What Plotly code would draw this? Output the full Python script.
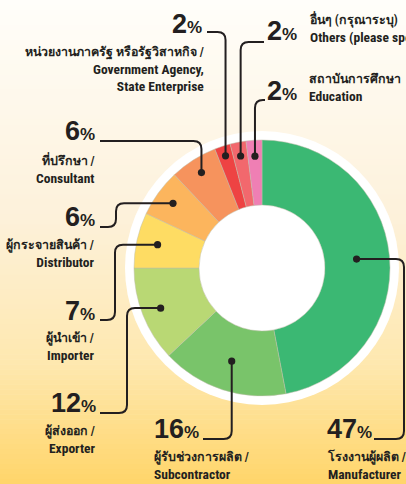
import math
import plotly.graph_objects as go

# ---- data ----
categories_th = ["โรงงานผู้ผลิต /", "ผู้รับช่วงการผลิต /", "ผู้ส่งออก /", "ผู้นำเข้า /",
                 "ผู้กระจายสินค้า /", "ที่ปรึกษา /", "หน่วยงานภาครัฐ หรือรัฐวิสาหกิจ /",
                 "อื่นๆ (กรุณาระบุ)", "สถาบันการศึกษา"]
categories_en = ["Manufacturer", "Subcontractor", "Exporter", "Importer", "Distributor",
                 "Consultant", "Government Agency,<br>State Enterprise",
                 "Others (please specify)", "Education"]
values = [47, 16, 12, 7, 6, 6, 2, 2, 2]
colors = ["#3BB873", "#79C46A", "#B9D874", "#FEDC63", "#FCB55D", "#F6935D",
          "#EE4343", "#F2686D", "#EF7FB4"]

W, H = 406, 484
CX, CY, R_OUT, R_IN, R_RING = 262, 268, 128, 63, 137
DARK = "#231F20"
FONT = "Liberation Sans Narrow, Roboto Condensed, Arial Narrow, Liberation Sans, sans-serif"
NUMFONT = "Liberation Sans, Arial, sans-serif"


def px(x, y):
    return x / W, 1 - y / H


fig = go.Figure()
fig.add_trace(go.Pie(
    values=values, labels=[e.replace("<br>", " ") for e in categories_en],
    marker=dict(colors=colors, line=dict(color="rgba(190,190,170,0.7)", width=0.7)),
    hole=R_IN / R_OUT, sort=False, direction="clockwise", rotation=0,
    textinfo="none", hoverinfo="label+percent", showlegend=False,
    domain=dict(x=[(CX - R_OUT) / W, (CX + R_OUT) / W],
                y=[1 - (CY + R_OUT) / H, 1 - (CY - R_OUT) / H]),
))

shapes = []
# background gradient
stops = [(0.0, (255, 254, 250)), (0.45, (253, 241, 218)), (0.75, (254, 232, 175)), (1.0, (255, 213, 106))]


def grad(t):
    for (t0, c0), (t1, c1) in zip(stops, stops[1:]):
        if t <= t1:
            f = (t - t0) / (t1 - t0)
            return "rgb(%d,%d,%d)" % tuple(round(a + (b - a) * f) for a, b in zip(c0, c1))
    return "rgb(%d,%d,%d)" % stops[-1][1]


N = 97
for i in range(N):
    y0, y1 = i * H / N, (i + 1) * H / N + 0.6
    shapes.append(dict(type="rect", xref="paper", yref="paper", layer="below",
                       x0=0, x1=1, y0=1 - y1 / H, y1=1 - y0 / H,
                       fillcolor=grad((i + 0.5) / N), line=dict(width=0)))
# white ring
x0, y0 = px(CX - R_RING, CY - R_RING)
x1, y1 = px(CX + R_RING, CY + R_RING)
shapes.append(dict(type="circle", xref="paper", yref="paper", layer="below",
                   x0=x0, x1=x1, y0=y1, y1=y0, fillcolor="white", line=dict(width=0)))

# leader dots computed from slice mid-angles
dot_r = [95, 98, 109, 107, 110, 113, 118, 114, 112]
total = sum(values)
cum = 0
dots = []
for v, r in zip(values, dot_r):
    a = math.radians((cum + v / 2) / total * 360)
    cum += v
    dots.append((CX + r * math.sin(a), CY - r * math.cos(a)))


def path_str(pts):
    out = []
    for cmd in pts:
        c = cmd[0]
        nums = cmd[1:]
        conv = []
        for k in range(0, len(nums), 2):
            X, Y = px(nums[k], nums[k + 1])
            conv.append("%.5f,%.5f" % (X, Y))
        out.append(c + " " + " ".join(conv))
    return " ".join(out)


def leader(i):
    dx, dy = dots[i]
    c = 8
    if i == 0:
        xr, yb, xe = 404, 439, 374
        p = [("M", dx, dy), ("L", xr - c, dy), ("Q", xr, dy, xr, dy + c), ("L", xr, yb - c),
             ("Q", xr, yb, xr - c, yb), ("L", xe, yb)]
    elif i == 1:
        yb, xe = 439, 203
        p = [("M", dx, dy), ("L", dx, yb - c), ("Q", dx, yb, dx - c, yb), ("L", xe, yb)]
    elif i in (2, 3, 4):
        xv, yb = {2: (127, 413), 3: (115, 320), 4: (116, 227)}[i]
        p = [("M", dx, dy), ("L", xv + c, dy), ("Q", xv, dy, xv, dy + c), ("L", xv, yb - c),
             ("Q", xv, yb, xv - c, yb), ("L", 100, yb)]
    elif i == 5:
        yt = 141
        p = [("M", dx, dy), ("L", dx, yt + c), ("Q", dx, yt, dx - c, yt), ("L", 100, yt)]
    elif i == 6:
        yt = 32
        p = [("M", dx, dy), ("L", dx, yt + c), ("Q", dx, yt, dx - c, yt), ("L", 207, yt)]
    elif i == 7:
        yt = 42
        p = [("M", dx, dy), ("L", dx, yt + c), ("Q", dx, yt, dx + c, yt), ("L", 264, yt)]
    else:
        yt = 100
        p = [("M", dx, dy), ("L", dx, yt + c), ("Q", dx, yt, dx + c, yt), ("L", 265, yt)]
    return p


for i in range(len(values)):
    shapes.append(dict(type="path", xref="paper", yref="paper", layer="above",
                       path=path_str(leader(i)), line=dict(color=DARK, width=2)))
    dx, dy = dots[i]
    a0, b0 = px(dx - 3.6, dy - 3.6)
    a1, b1 = px(dx + 3.6, dy + 3.6)
    shapes.append(dict(type="circle", xref="paper", yref="paper", layer="above",
                       x0=a0, x1=a1, y0=b1, y1=b0, fillcolor=DARK, line=dict(width=0)))

# label layout: (pct x, pct y-mid, pct anchor, label x, label top y, label anchor)
label_pos = [
    (325, 429, "left", 325, 447, "left"),
    (152, 429, "left", 152, 447, "left"),
    (98, 403, "right", 98, 421, "right"),
    (97, 311, "right", 97, 328, "right"),
    (97, 217, "right", 97, 235, "right"),
    (97, 131, "right", 97, 150, "right"),
    (204, 24, "right", 206, 42, "right"),
    (265, 31, "left", 307, 9, "left"),
    (265, 91, "left", 307, 69, "left"),
]

annotations = []
for i, v in enumerate(values):
    pxx, pyy, pa, lx, ly, la = label_pos[i]
    X, Y = px(pxx, pyy)
    annotations.append(dict(
        x=X, y=Y, xref="paper", yref="paper", xanchor=pa, yanchor="middle", showarrow=False,
        text="<b>%d</b><b><span style='font-size:17px'>%%</span></b>" % v,
        font=dict(family=NUMFONT, size=27, color=DARK)))
    X, Y = px(lx, ly)
    txt = ("<span style='font-size:12.4px'><b>" + categories_th[i] + "</b></span><br><b>"
           + categories_en[i].replace("<br>", "</b><br><b>") + "</b>")
    annotations.append(dict(
        x=X, y=Y, xref="paper", yref="paper", xanchor=la, yanchor="top", showarrow=False,
        align=la, text=txt, font=dict(family=FONT, size=13.5, color=DARK)))

fig.update_layout(
    width=W, height=H, margin=dict(l=0, r=0, t=0, b=0),
    paper_bgcolor="#FFF8EA", plot_bgcolor="rgba(0,0,0,0)",
    shapes=shapes, annotations=annotations, showlegend=False,
)
fig.write_html("out.html", post_script="document.body.style.margin='0';",
               config={"displayModeBar": False})
